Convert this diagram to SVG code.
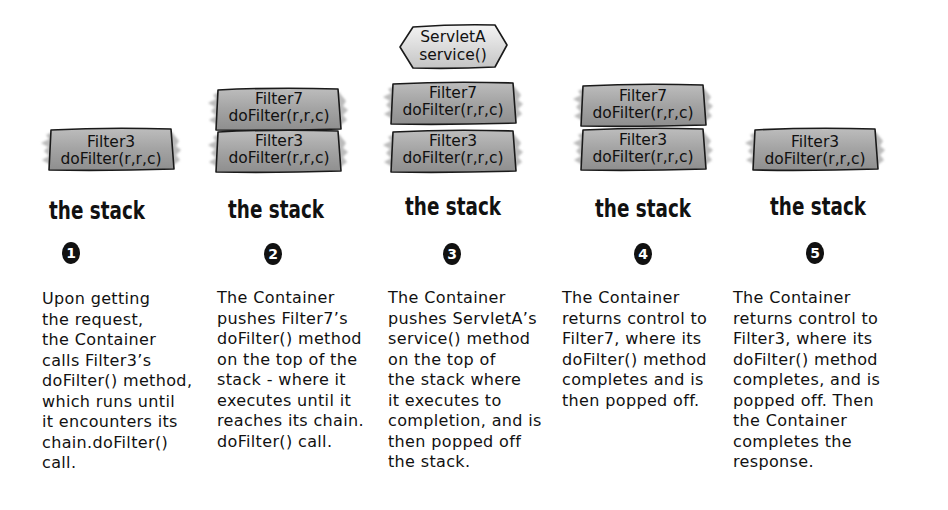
<svg xmlns="http://www.w3.org/2000/svg" xmlns:xlink="http://www.w3.org/1999/xlink" width="948" height="510" viewBox="0 0 948 510">
<style>
.bt{font-family:"DejaVu Sans",sans-serif;font-size:15.5px;fill:#111;text-anchor:middle}
.st{font-family:"DejaVu Sans",sans-serif;font-weight:bold;font-stretch:condensed;font-size:25px;fill:#111;text-anchor:middle}
.p{font-family:"DejaVu Sans",sans-serif;font-size:16px;letter-spacing:0.35px;fill:#111}
.nm{font-family:"DejaVu Sans",sans-serif;font-weight:bold;font-size:14px;fill:#fff;text-anchor:middle}
</style>
<defs>
<linearGradient id="g" x1="0" y1="0" x2="0" y2="1">
<stop offset="0" stop-color="#bdbdbd"/><stop offset="0.5" stop-color="#a3a3a3"/><stop offset="1" stop-color="#8e8e8e"/>
</linearGradient>
<linearGradient id="gh" x1="0" y1="0" x2="0" y2="1">
<stop offset="0" stop-color="#f4f4f4"/><stop offset="1" stop-color="#c4c4c4"/>
</linearGradient>
<filter id="soft" x="-10%" y="-20%" width="120%" height="140%"><feGaussianBlur stdDeviation="1.2"/></filter>
<symbol id="plank" overflow="visible">
<path d="M4,4 L-2,7 L1,11 L-7,15 L0,19 L-4,23 L1,28 L-6,32 L1,36 L3,40 L122,40 L127,36 L132,32 L128,27 L133,22 L128,18 L131,13 L127,8 L124,4 Z" fill="#bcbcbc" filter="url(#soft)"/>
<path d="M3,2 Q60,-1 123,1 L126,41 Q60,43 1,42 Z" fill="url(#g)" stroke="#1a1a1a" stroke-width="1.6" stroke-linejoin="round"/>
</symbol>
</defs>

<g id="col1">
<g id="c1-filter3"><use xlink:href="#plank" x="48" y="128"/><text class="bt" x="111" y="147">Filter3</text><text class="bt" x="111" y="164">doFilter(r,r,c)</text></g>
<text class="st" x="97" y="219" textLength="96" lengthAdjust="spacingAndGlyphs">the stack</text>
<g id="n1"><ellipse cx="71" cy="253" rx="9" ry="11" fill="#111"/><text class="nm" x="71" y="258">1</text></g>
<text class="p" x="42" y="304">Upon getting</text>
<text class="p" x="42" y="324.5">the request,</text>
<text class="p" x="42" y="345">the Container</text>
<text class="p" x="42" y="365.5">calls Filter3’s</text>
<text class="p" x="42" y="386">doFilter() method,</text>
<text class="p" x="42" y="406.5">which runs until</text>
<text class="p" x="42" y="427">it encounters its</text>
<text class="p" x="42" y="447.5">chain.doFilter()</text>
<text class="p" x="42" y="468">call.</text>
</g>

<g id="col2">
<g id="c2-filter7"><use xlink:href="#plank" x="215" y="88"/><text class="bt" x="279" y="104">Filter7</text><text class="bt" x="279" y="121">doFilter(r,r,c)</text></g>
<g id="c2-filter3"><use xlink:href="#plank" x="215" y="130"/><text class="bt" x="279" y="146">Filter3</text><text class="bt" x="279" y="163">doFilter(r,r,c)</text></g>
<text class="st" x="276" y="218" textLength="96" lengthAdjust="spacingAndGlyphs">the stack</text>
<g id="n2"><ellipse cx="273" cy="254" rx="9" ry="11" fill="#111"/><text class="nm" x="273" y="259">2</text></g>
<text class="p" x="217" y="303">The Container</text>
<text class="p" x="217" y="323.5">pushes Filter7’s</text>
<text class="p" x="217" y="344">doFilter() method</text>
<text class="p" x="217" y="364.5">on the top of the</text>
<text class="p" x="217" y="385">stack - where it</text>
<text class="p" x="217" y="405.5">executes until it</text>
<text class="p" x="217" y="426">reaches its chain.</text>
<text class="p" x="217" y="446.5">doFilter() call.</text>
</g>

<g id="col3">
<g id="c3-servleta"><path d="M400,47 L413,27 Q455,24 495,25 L507,45 L495,67 Q455,69 413,68 Z" fill="url(#gh)" stroke="#1a1a1a" stroke-width="1.6" stroke-linejoin="round"/><text class="bt" x="453" y="42">ServletA</text><text class="bt" x="453" y="60">service()</text></g>
<g id="c3-filter7"><use xlink:href="#plank" x="390" y="82"/><text class="bt" x="453" y="98">Filter7</text><text class="bt" x="453" y="115">doFilter(r,r,c)</text></g>
<g id="c3-filter3"><use xlink:href="#plank" x="390" y="130"/><text class="bt" x="453" y="146">Filter3</text><text class="bt" x="453" y="163">doFilter(r,r,c)</text></g>
<text class="st" x="453" y="215" textLength="96" lengthAdjust="spacingAndGlyphs">the stack</text>
<g id="n3"><ellipse cx="452" cy="254" rx="9" ry="11" fill="#111"/><text class="nm" x="452" y="259">3</text></g>
<text class="p" x="388" y="303">The Container</text>
<text class="p" x="388" y="323.5">pushes ServletA’s</text>
<text class="p" x="388" y="344">service() method</text>
<text class="p" x="388" y="364.5">on the top of</text>
<text class="p" x="388" y="385">the stack where</text>
<text class="p" x="388" y="405.5">it executes to</text>
<text class="p" x="388" y="426">completion, and is</text>
<text class="p" x="388" y="446.5">then popped off</text>
<text class="p" x="388" y="467">the stack.</text>
</g>

<g id="col4">
<g id="c4-filter7"><use xlink:href="#plank" x="580" y="84"/><text class="bt" x="643" y="101">Filter7</text><text class="bt" x="643" y="118">doFilter(r,r,c)</text></g>
<g id="c4-filter3"><use xlink:href="#plank" x="580" y="128"/><text class="bt" x="643" y="145">Filter3</text><text class="bt" x="643" y="162">doFilter(r,r,c)</text></g>
<text class="st" x="643" y="217" textLength="96" lengthAdjust="spacingAndGlyphs">the stack</text>
<g id="n4"><ellipse cx="643" cy="254" rx="9" ry="11" fill="#111"/><text class="nm" x="643" y="259">4</text></g>
<text class="p" x="562" y="303">The Container</text>
<text class="p" x="562" y="323.5">returns control to</text>
<text class="p" x="562" y="344">Filter7, where its</text>
<text class="p" x="562" y="364.5">doFilter() method</text>
<text class="p" x="562" y="385">completes and is</text>
<text class="p" x="562" y="405.5">then popped off.</text>
</g>

<g id="col5">
<g id="c5-filter3"><use xlink:href="#plank" x="752" y="128"/><text class="bt" x="815" y="147">Filter3</text><text class="bt" x="815" y="164">doFilter(r,r,c)</text></g>
<text class="st" x="818" y="215" textLength="96" lengthAdjust="spacingAndGlyphs">the stack</text>
<g id="n5"><ellipse cx="815" cy="253" rx="9" ry="11" fill="#111"/><text class="nm" x="815" y="258">5</text></g>
<text class="p" x="733" y="303">The Container</text>
<text class="p" x="733" y="323.5">returns control to</text>
<text class="p" x="733" y="344">Filter3, where its</text>
<text class="p" x="733" y="364.5">doFilter() method</text>
<text class="p" x="733" y="385">completes, and is</text>
<text class="p" x="733" y="405.5">popped off. Then</text>
<text class="p" x="733" y="426">the Container</text>
<text class="p" x="733" y="446.5">completes the</text>
<text class="p" x="733" y="467">response.</text>
</g>

<g id="connectors"></g>
</svg>
